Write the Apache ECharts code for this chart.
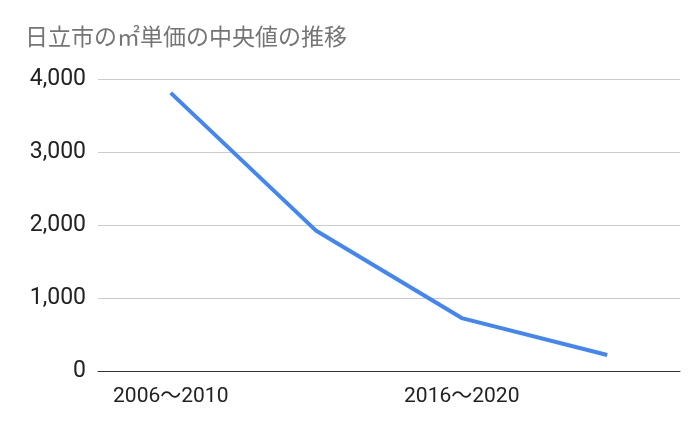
<!DOCTYPE html>
<html><head><meta charset="utf-8">
<script src="https://cdn.jsdelivr.net/npm/echarts@6/dist/echarts.min.js"></script>
<style>html,body{margin:0;padding:0;background:#fff}#c{width:700px;height:433px}</style>
</head><body><div id="c"></div>
<script>
var categories = ["2006～2010", "2011～2015", "2016～2020", "2021～2025"];
var medianPrice = [3810, 1920, 725, 220];

var chart = echarts.init(document.getElementById("c"));
chart.setOption({
  animation: false,
  title: {
    text: "日立市の㎡単価の中央値の推移",
    left: 20, top: 20,
    textStyle: { fontFamily: "Noto Sans CJK JP", fontSize: 23, fontWeight: "normal", color: "#757575" }
  },
  grid: { left: 98, right: 20, top: 79, bottom: 62 },
  xAxis: {
    type: "category",
    data: categories,
    axisLine: { lineStyle: { color: "#333" } },
    axisTick: { show: false },
    axisLabel: { color: "#222", fontSize: 21, fontFamily: "Roboto, Noto Sans CJK JP", margin: 15 }
  },
  yAxis: {
    type: "value",
    min: 0, max: 4000, interval: 1000,
    axisLine: { show: false },
    axisTick: { show: false },
    splitLine: { lineStyle: { color: "#ccc" } },
    axisLabel: { color: "#222", fontSize: 23, fontFamily: "Roboto", margin: 12,
      formatter: function (v) { return v.toLocaleString("en-US"); } }
  },
  series: [{
    type: "line",
    data: medianPrice,
    symbol: "none",
    lineStyle: { color: "#4285f4", width: 4 }
  }]
});
</script></body></html>
